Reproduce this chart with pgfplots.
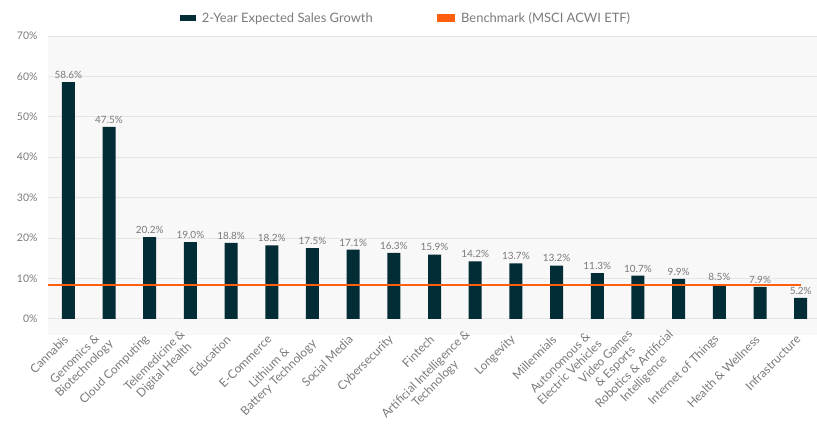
\documentclass[border=0pt]{standalone}
\usepackage{fontspec}
\setmainfont{Lato}
\usepackage{pgfplots}
\pgfplotsset{compat=1.18}
\definecolor{barc}{HTML}{022D36}
\definecolor{benc}{HTML}{FF5F0F}
\definecolor{txtc}{HTML}{7A7A7A}
\definecolor{bgc}{HTML}{F8F8F8}
\definecolor{gridc}{HTML}{E6E6E6}
\begin{document}
\begin{tikzpicture}
\path[use as bounding box] (-48bp,-95bp) rectangle (769bp,335bp);
\begin{axis}[
  at={(0,0)}, anchor=south west,
  scale only axis, width=769bp, height=299bp,
  xmin=-0.5, xmax=18.4, ymin=-4, ymax=70,
  axis background/.style={fill=bgc},
  axis line style={draw=none},
  major tick length=0pt,
  ymajorgrids, grid style={gridc, line width=0.8pt},
  ytick={0,10,...,70},
  yticklabel={\pgfmathprintnumber{\tick}\%},
  /pgf/number format/assume math mode=true,
  yticklabel style={font=\fontsize{10.5}{12}\selectfont, text=txtc, xshift=-7bp},
  xtick={0,...,18},
  xticklabels={Cannabis, {Genomics \&\\Biotechnology}, Cloud Computing, {Telemedicine \&\\Digital Health}, Education, E-Commerce, {Lithium \&\\Battery Technology}, Social Media, Cybersecurity, Fintech, {Artificial Intelligence \&\\Technology}, Longevity, Millennials, {Autonomous \&\\Electric Vehicles}, {Video Games\\\& Esports}, {Robotics \& Artificial\\Intelligence}, Internet of Things, Health \& Wellness, Infrastructure},
  xticklabel style={rotate=45, anchor=east, align=center, font=\fontsize{12}{13.5}\selectfont, text=txtc},
  legend style={at={(0.4655,1)}, anchor=south, yshift=8bp, legend columns=2, draw=none, fill=none, font=\fontsize{13}{15}\selectfont, text=txtc,
    /tikz/every even column/.append style={column sep=62bp},
    /tikz/every odd column/.append style={column sep=4bp}},
]
\addplot[ybar, bar width=13bp, fill=barc, draw=none,
  nodes near coords={\pgfmathprintnumber[fixed,fixed zerofill,precision=1]{\pgfplotspointmeta}\%},
  nodes near coords style={font=\fontsize{10}{12}\selectfont, text=txtc, /pgf/number format/assume math mode=true},
  legend image code/.code={\fill[barc] (0bp,-3bp) rectangle (16bp,3bp);}]
coordinates {(0,58.6) (1,47.5) (2,20.2) (3,19.0) (4,18.8) (5,18.2) (6,17.5) (7,17.1) (8,16.3) (9,15.9) (10,14.2) (11,13.7) (12,13.2) (13,11.3) (14,10.7) (15,9.9) (16,8.5) (17,7.9) (18,5.2)};
\addlegendentry{2-Year Expected Sales Growth}
\addplot[benc, line width=2.4pt, sharp plot, mark=none,
  legend image code/.code={\fill[benc] (0bp,-3bp) rectangle (16bp,3bp);}]
coordinates {(-0.5,8.4) (18,8.4)};
\addlegendentry{Benchmark (MSCI ACWI ETF)}
\end{axis}
\end{tikzpicture}
\end{document}
